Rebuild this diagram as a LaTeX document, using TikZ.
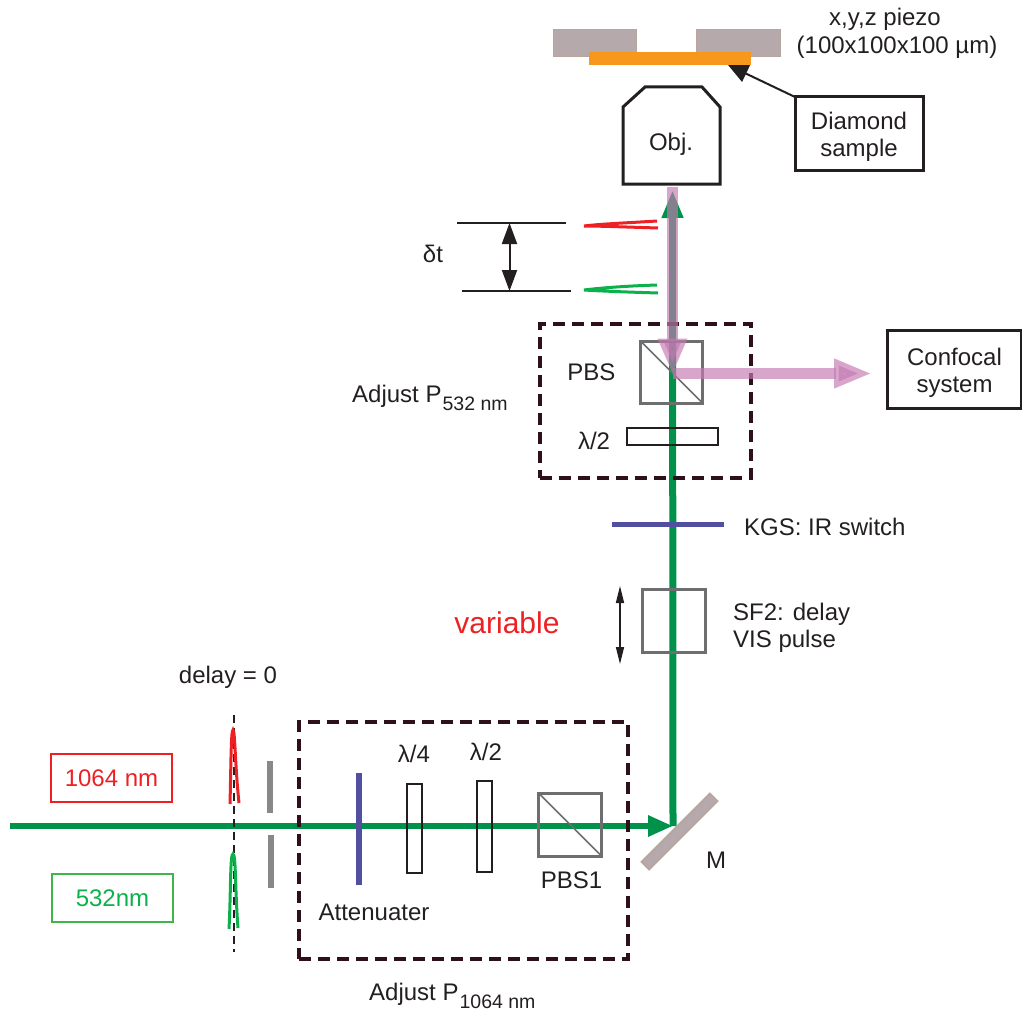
\documentclass[tikz,border=0pt]{standalone}
\usepackage{fontspec}
\setmainfont{Liberation Sans}
\usetikzlibrary{arrows.meta,backgrounds,positioning}
\definecolor{Ink}{HTML}{231F20}
\definecolor{Beam}{HTML}{00924A}
\definecolor{Pink}{HTML}{C579B2}
\definecolor{Optic}{HTML}{6D6E70}
\definecolor{Frame}{HTML}{2E0F1C}
\definecolor{Filter}{HTML}{534FA0}
\definecolor{Stage}{HTML}{B5A9AB}
\definecolor{StageLine}{HTML}{B8A59B}
\definecolor{Sample}{HTML}{F7981D}
\definecolor{Slit}{HTML}{87888A}
\definecolor{RedPulse}{HTML}{ED2024}
\definecolor{GreenPulse}{HTML}{0DB14B}
\definecolor{GreenBox}{HTML}{3FB54A}
\newcommand{\lab}{\fontsize{24}{27}\selectfont}
\newcommand{\subl}[1]{\kern1pt\raisebox{-8pt}{\fontsize{19.5}{19.5}\selectfont #1}}
\tikzset{label/.style={font=\lab,text=Ink,inner sep=0pt,align=center},part/.style={draw,inner sep=0pt,outer sep=0pt},cube/.style={part,draw=Optic,line width=3pt,minimum size=62pt},plate/.style={part,draw=Ink,line width=2pt},textbox/.style={part,draw=Ink,line width=3pt},colorbox/.style={part,line width=1.5pt,minimum width=121pt,minimum height=48pt,font=\lab},adjust/.style={part,draw=Frame,line width=4pt,dash pattern=on 12pt off 7pt},green/.style={draw=Beam,line width=6pt},pinkbeam/.style={draw=Pink,opacity=.67,line width=11pt},pulse/.style={line width=3pt}}

\begin{document}
\begin{tikzpicture}[x=1pt,y=-1pt]
      \useasboundingbox (0,0) rectangle (1022,1014);
      \node[part,draw=StageLine,fill=Stage,line width=1.5pt,minimum width=83pt,minimum height=27pt](stageL) at (595,43){};
      \node[part,draw=StageLine,fill=Stage,line width=1.5pt,minimum width=84pt,minimum height=27pt](stageR) at (738.5,43){};
      \node[part,draw=none,fill=Sample,minimum width=162pt,minimum height=13pt](sample) at (670,58.5){};
      \node[label](piezoA) at (885,19){x,y,z piezo};
      \node[label](piezoB) at (897,47){(100x100x100 µm)};
      \node[textbox,minimum width=128pt,minimum height=73pt](diamond) at (859,133.5){};
      \node[label](diamondl) at (859,136.5){Diamond\\sample};
      \draw[Ink,line width=3pt,line join=miter](623,184)--(623,107)--(645,87)--(702,87)--(720,107)--(720,184)--cycle;
      \node[label](obj) at (671,144){Obj.};
      \coordinate(sampleHit) at (728,65);
      \draw[Ink,line width=2pt,-{Triangle[length=20pt,width=18pt]}](diamond.north west)--(sampleHit);

      \coordinate(tickA) at (509.5,223);\coordinate(tickB) at (509.5,291);
      \coordinate(tickAl) at (457,223);\coordinate(tickAr) at (566,223);
      \coordinate(tickBl) at (462,291);\coordinate(tickBr) at (571,291);
      \draw[Ink,line width=2pt](tickAl)--(tickAr);\draw[Ink,line width=2pt](tickBl)--(tickBr);
      \draw[Ink,line width=2pt,{Triangle[length=21pt,width=15pt]}-{Triangle[length=21pt,width=15pt]}](tickA)--(tickB);
      \node[label](dt) at (433,254){δt};
      \draw[pulse,RedPulse](657,221) .. controls (625,223) and (600,224) .. (584,226) .. controls (600,226) and (625,227) .. (658,228);
      \draw[pulse,GreenPulse](657,285) .. controls (625,286) and (600,288) .. (584,290) .. controls (600,291) and (625,292) .. (658,293);

      \node[cube](pbs) at (671.5,372){};
      \draw[Optic,line width=1.5pt](pbs.north west)--(pbs.south east);
      \node[label,left=25pt of pbs](pbsl){PBS};
      \node[plate,minimum width=91pt,minimum height=17pt](halfA) at (672.5,436.5){};
      \node[label](halfAl) at (594,441){λ/2};
      \node[adjust,minimum width=211pt,minimum height=154pt](adjA) at (645.5,401){};
      \node[label,anchor=base west](adjAl) at (352,402){Adjust P\subl{532 nm}};
      \node[textbox,minimum width=134pt,minimum height=78pt](confocal) at (954.5,369){};
      \node[label](confocall) at (954.5,373){Confocal\\system};

      \node[part,draw=none,fill=Filter,minimum width=112pt,minimum height=5pt](kgs) at (668,524.5){};
      \node[label,right=20pt of kgs,yshift=-2pt](kgsl){KGS: IR switch};
      \node[cube,minimum size=63pt](sf) at (673.5,620.5){};
      \node[label,align=left,right=28pt of sf,yshift=-7pt](sfl){SF2: delay\\VIS pulse};
      \coordinate(moveA) at (620,586);\coordinate(moveB) at (620,664);
      \draw[Ink,line width=1.5pt,{Triangle[length=17pt,width=8pt]}-{Triangle[length=17pt,width=8pt]}](moveA)--(moveB);
      \node[label,font=\fontsize{30}{34}\selectfont,text=RedPulse](variable) at (507,623){variable};

      \node[label](delay) at (228,677){delay = 0};
      \coordinate(zeroA) at (234,715);\coordinate(zeroB) at (234,952);
      \draw[Ink,line width=1.5pt,dash pattern=on 8pt off 5pt](zeroA)--(zeroB);
      \draw[pulse,RedPulse](230,804) .. controls (231,765) and (231,730) .. (233,730) .. controls (235,730) and (235,765) .. (239,803);
      \draw[pulse,GreenPulse](229,929) .. controls (231,890) and (230,854) .. (233,854) .. controls (236,854) and (235,890) .. (238,928);
      \node[colorbox,draw=RedPulse,text=RedPulse](ir) at (111.5,778){1064 nm};
      \node[colorbox,draw=GreenBox,text=GreenPulse](vis) at (112.5,898){532nm};
      \node[part,draw=none,fill=Slit,minimum width=6pt,minimum height=52pt](slitA) at (270,787){};
      \node[part,draw=none,fill=Slit,minimum width=6pt,minimum height=53pt](slitB) at (270.5,861.5){};

      \node[part,draw=none,fill=Filter,minimum width=6pt,minimum height=112pt](atten) at (359,829){};
      \node[label,anchor=base](attenl) at (374,920){Attenuater};
      \node[plate,minimum width=15pt,minimum height=89pt](quarter) at (414.5,828.5){};
      \node[label](quarterl) at (414,754){λ/4};
      \node[plate,minimum width=15pt,minimum height=91pt](halfB) at (484.5,826.5){};
      \node[label](halfBl) at (486,752){λ/2};
      \node[cube,minimum size=63pt](pbsB) at (570,824.5){};
      \draw[Optic,line width=1.5pt](pbsB.north west)--(pbsB.south east);
      \node[label,anchor=base](pbsBl) at (571.5,888){PBS1};
      \node[adjust,minimum width=329pt,minimum height=237pt](adjB) at (463.5,840.5){};
      \node[label,anchor=base west](adjBl) at (369,1000){Adjust P\subl{1064 nm}};
      \node[part,draw=StageLine,fill=Stage,line width=1.5pt,minimum width=97pt,minimum height=11pt,rotate=45](mirror) at (679.5,831.5){};
      \node[label](ml) at (716,860){M};

      \coordinate(start) at (10,826);\coordinate(hit) at (673,826);\coordinate(objGreen) at (672.5,190);
      \coordinate(objPink) at (672.5,187);\coordinate(split) at (672.5,373.5);\coordinate(out) at (872,373.5);
      \begin{scope}[on background layer]
        \draw[green,-{Triangle[length=25pt,width=20pt]}](start)--(hit);
        \draw[green,line width=7pt,-{Triangle[length=28pt,width=20pt]}](hit)--(objGreen);
      \end{scope}
      \draw[pinkbeam,-{Triangle[length=36pt,width=27pt]},shorten >=-1pt](objPink)--(split);
      \draw[pinkbeam,-{Triangle[length=38pt,width=27pt]}](split)--(out);
\end{tikzpicture}
\end{document}
